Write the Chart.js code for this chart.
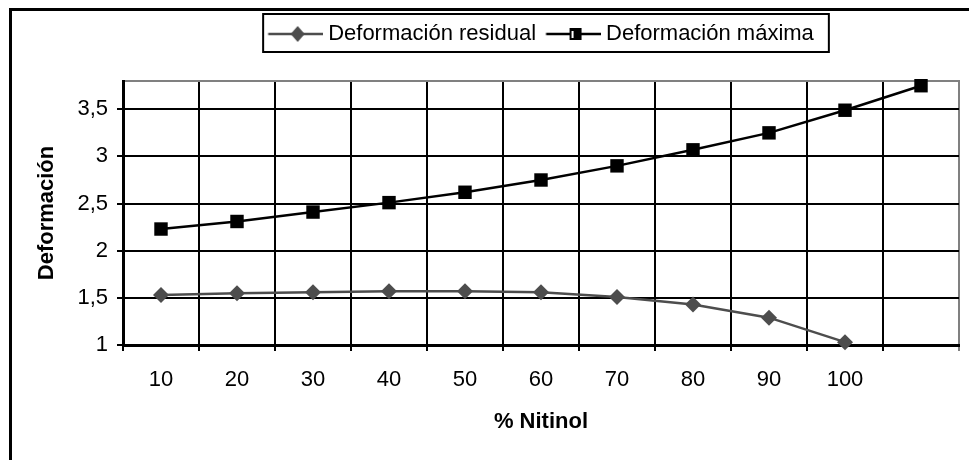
<!DOCTYPE html>
<html>
<head>
<meta charset="utf-8">
<script src="https://cdn.jsdelivr.net/npm/chart.js@4"></script>
<style>
  html, body { margin: 0; padding: 0; background: #fff; overflow: hidden; }
  #frame { position: absolute; left: 9px; top: 8px; width: 1000px; height: 500px; border: 3px solid #000; }
  #chart { position: absolute; left: 0; top: 0; }
</style>
</head>
<body>
<div id="frame"></div>
<canvas id="chart" width="969" height="460"></canvas>
<script>
// ============ DATA ============
var categories  = ['10', '20', '30', '40', '50', '60', '70', '80', '90', '100', ''];
var residual    = [1.53, 1.55, 1.56, 1.57, 1.57, 1.56, 1.51, 1.43, 1.29, 1.03];
var maxima      = [2.23, 2.31, 2.41, 2.51, 2.62, 2.75, 2.90, 3.07, 3.25, 3.49, 3.75];
var seriesNames = ['Deformación residual', 'Deformación máxima'];
var yMin = 1, yMax = 3.8, yStep = 0.5;

Chart.defaults.font.family = "'Liberation Sans', Arial, sans-serif";
Chart.defaults.color = '#000';

// ============ LEGEND SAMPLES (line + marker) ============
function legendSample(color, shape) {
  var c = document.createElement('canvas');
  c.width = 60; c.height = 22;
  var g = c.getContext('2d');
  g.strokeStyle = color; g.lineWidth = 2.5;
  g.beginPath(); g.moveTo(5.5, 11); g.lineTo(60, 11); g.stroke();
  g.fillStyle = color;
  if (shape === 'diamond') {
    g.beginPath(); g.moveTo(35, 3); g.lineTo(42, 11); g.lineTo(35, 19); g.lineTo(28, 11); g.closePath(); g.fill();
  } else {
    g.fillRect(29, 5, 12, 12);
    g.fillStyle = '#fff'; g.fillRect(31, 8, 2, 7);
  }
  return c;
}
var samples = [legendSample('#4d4d4d', 'diamond'), legendSample('#000', 'square')];

// legend centred over the plot area, framed
var legendFrame = {
  id: 'legendFrame',
  afterLayout: function(chart) {
    var lg = chart.legend, a = chart.chartArea;
    var dx = (a.left + a.right) / 2 - (lg.left + lg.right) / 2;
    lg.left += dx; lg.right += dx;
  },
  afterDraw: function(chart) {
    var boxes = chart.legend.legendHitBoxes;
    if (!boxes || !boxes.length) return;
    var first = boxes[0], last = boxes[boxes.length - 1];
    var ctx = chart.ctx;
    ctx.save();
    ctx.strokeStyle = '#000'; ctx.lineWidth = 2;
    ctx.strokeRect(first.left - 5, first.top - 9, last.left + last.width + 20 - first.left, first.height + 16);
    ctx.restore();
  }
};

var lastLine = function(c) { return c.index === undefined; };

new Chart(document.getElementById('chart'), {
  type: 'line',
  data: {
    labels: categories,
    datasets: [{
      label: seriesNames[0],
      data: residual,
      borderColor: '#4d4d4d',
      backgroundColor: '#4d4d4d',
      borderWidth: 2.5,
      pointStyle: 'rectRot',
      pointRadius: 8,
      pointBorderWidth: 0,
      clip: false
    }, {
      label: seriesNames[1],
      data: maxima,
      borderColor: '#000',
      backgroundColor: '#000',
      borderWidth: 2.5,
      pointStyle: 'rect',
      pointRadius: 9.5,
      pointBorderWidth: 0,
      clip: false
    }]
  },
  options: {
    responsive: false,
    animation: false,
    layout: { padding: { top: 13, left: 0, right: 10, bottom: 0 } },
    plugins: {
      tooltip: { enabled: false },
      legend: {
        position: 'top',
        labels: {
          usePointStyle: true,
          pointStyleWidth: 49,
          padding: 10,
          color: '#000',
          font: { size: 22 },
          generateLabels: function(chart) {
            var items = Chart.defaults.plugins.legend.labels.generateLabels(chart);
            items.forEach(function(it, i) { it.pointStyle = samples[i]; });
            return items;
          }
        }
      }
    },
    scales: {
      x: {
        offset: true,
        grid: {
          offset: true,
          color: function(c) { return lastLine(c) ? '#808080' : '#000'; },
          lineWidth: 2,
          tickLength: 6
        },
        border: { color: '#000', width: 3 },
        ticks: { color: '#000', font: { size: 22 }, padding: 16, maxRotation: 0, autoSkip: false },
        title: { display: true, text: '% Nitinol', color: '#000', font: { size: 22, weight: 'bold' }, padding: { top: 0, bottom: 25 } },
        afterFit: function(s) { s.height = 115; }
      },
      xTop: {
        position: 'top',
        type: 'category',
        grid: { display: false },
        ticks: { display: false },
        border: { display: true, color: '#808080', width: 2 },
        afterFit: function(s) { s.height = 26; }
      },
      y: {
        min: yMin,
        max: yMax,
        grid: { color: '#000', lineWidth: 2, tickLength: 6 },
        border: { color: '#000', width: 3 },
        ticks: {
          stepSize: yStep,
          includeBounds: false,
          padding: 9,
          color: '#000',
          font: { size: 22 },
          callback: function(v) { return String(v).replace('.', ','); }
        },
        title: { display: true, text: 'Deformación', color: '#000', font: { size: 22, weight: 'bold' }, padding: { top: 34, bottom: 0 } },
        afterFit: function(s) { s.width = 123; }
      }
    }
  },
  plugins: [legendFrame]
});
</script>
</body>
</html>
